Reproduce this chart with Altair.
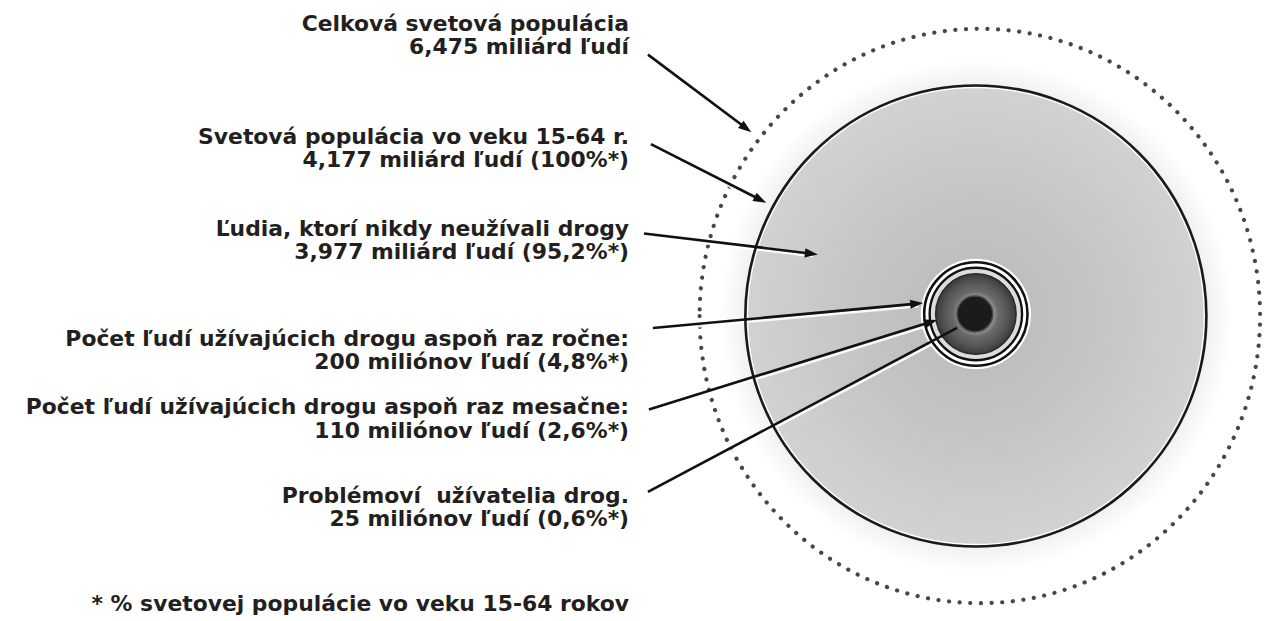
import altair as alt
import pandas as pd
import numpy as np

# ---------------- content ----------------
label_line1 = [
    "Celková svetová populácia",
    "Svetová populácia vo veku 15-64 r.",
    "Ľudia, ktorí nikdy neužívali drogy",
    "Počet ľudí užívajúcich drogu aspoň raz ročne:",
    "Počet ľudí užívajúcich drogu aspoň raz mesačne:",
    "Problémoví\u00a0 užívatelia drog.",
]
label_line2 = [
    "6,475 miliárd ľudí",
    "4,177 miliárd ľudí (100%*)",
    "3,977 miliárd ľudí (95,2%*)",
    "200 miliónov ľudí (4,8%*)",
    "110 miliónov ľudí (2,6%*)",
    "25 miliónov ľudí (0,6%*)",
]
footnote = "* % svetovej populácie vo veku 15-64 rokov"

# ---------------- layout (page pixel coordinates) ----------------
label_x = 633
label_y1 = [29, 143, 235, 346, 415, 504]
label_y2 = [52.5, 166.5, 258.5, 369.5, 438.5, 527.5]
footnote_y = 613

arrow_x1 = [652, 655, 648, 657, 653, 652]
arrow_y1 = [53, 143, 233, 328, 410, 493]
arrow_x2 = [756, 771, 823, 929, 943, 963]
arrow_y2 = [131, 202, 254, 303, 320, 328]
arrow_head = [True, True, True, True, True, False]

big_cx, big_cy = 982, 316
inner_cx, inner_cy = 982, 314
dotted_cx, dotted_cy = 986, 316
dotted_rx, dotted_ry = 282, 289
glow_r = 258
big_r = 232
ring_r = [55.5, 52, 46.5]
dark_r = 40.5
core_r = 18

xs = alt.Scale(domain=[8, 1278], nice=False, zero=False)
ys = alt.Scale(domain=[621, 8], nice=False, zero=False)


def X(f="x"):
    return alt.X(f"{f}:Q", scale=xs, axis=None)


def Y(f="y"):
    return alt.Y(f"{f}:Q", scale=ys, axis=None)


def circ(cx, cy, r, shape="circle", **mk):
    df = pd.DataFrame({"x": [cx], "y": [cy], "s": [(2 * r) ** 2]})
    return alt.Chart(df).mark_point(shape=shape, opacity=1, **mk).encode(
        x=X(), y=Y(), size=alt.Size("s:Q", scale=None)
    )


def grad(stops):
    return alt.Gradient(
        gradient="radial",
        stops=[alt.GradientStop(offset=o, color=c) for o, c in stops],
    )


layers = []
# faint glow around big circle
layers.append(circ(big_cx, big_cy, glow_r, filled=True, strokeWidth=0,
                   fill=grad([(0, "#eaeaea"), (0.9, "#f1f1f1"), (1, "#ffffff")])))
# dotted outer ellipse
k = dotted_rx / dotted_ry
ell = f"M{-k:.4f},0A{k:.4f},1 0 1,0 {k:.4f},0A{k:.4f},1 0 1,0 {-k:.4f},0Z"
layers.append(circ(dotted_cx, dotted_cy, dotted_ry, shape=ell, filled=False, stroke="#474747",
                   strokeWidth=4.2, strokeDash=[0.1, 10.6], strokeCap="round"))
# big circle fill
layers.append(circ(big_cx, big_cy, big_r, filled=True, strokeWidth=0,
                   fill=grad([(0, "#b9b9b9"), (0.5, "#c4c4c4"), (1, "#d2d2d2")])))

# lines
lines = []
heads = []
for i in range(len(arrow_x1)):
    x1, y1, x2, y2 = arrow_x1[i], arrow_y1[i], arrow_x2[i], arrow_y2[i]
    d = np.array([x2 - x1, y2 - y1], dtype=float)
    L = np.hypot(*d)
    u = d / L
    if arrow_head[i]:
        ex, ey = x2 - u[0] * 6, y2 - u[1] * 6
        ang = (np.degrees(np.arctan2(u[0], -u[1])) + 360) % 360
        heads.append({"x": x2 - u[0] * 7.5, "y": y2 - u[1] * 7.5, "ang": ang, "s": 225})
    else:
        ex, ey = x2, y2
    lines.append({"id": i, "o": 0, "x": x1, "y": y1})
    lines.append({"id": i, "o": 1, "x": ex, "y": ey})
ldf = pd.DataFrame(lines)
sdf = ldf.copy()
sdf["x"] = sdf["x"] + 1.0
sdf["y"] = sdf["y"] + 2.6

layers.append(alt.Chart(sdf).mark_line(color="#ffffff", strokeWidth=2.4, opacity=0.9).encode(
    x=X(), y=Y(), detail="id:N", order="o:Q"))
# big circle outline
layers.append(circ(big_cx, big_cy, big_r - 2.2, filled=False, stroke="#ffffff", strokeWidth=1.2))
layers.append(circ(big_cx, big_cy, big_r, filled=False, stroke="#1a1a1a", strokeWidth=2.6))

# inner rings
layers.append(circ(inner_cx, inner_cy, ring_r[0], filled=True, fill="#ffffff", strokeWidth=0))
layers.append(circ(inner_cx, inner_cy, ring_r[1], filled=True, fill="#ffffff", stroke="#111111", strokeWidth=2.6))
layers.append(circ(inner_cx, inner_cy, ring_r[2], filled=True, fill="#dcdcdc", stroke="#111111", strokeWidth=2.4))
layers.append(circ(inner_cx, inner_cy, dark_r, filled=True, stroke="#2a2a2a", strokeWidth=1.5,
                   fill=grad([(0, "#8e8e8e"), (0.47, "#8a8a8a"), (0.56, "#6a6a6a"),
                              (0.8, "#555555"), (1, "#3a3a3a")])))
layers.append(circ(inner_cx - 1, inner_cy, core_r, filled=True, fill="#1b1b1b", stroke="#4a4a4a", strokeWidth=1.5))

# black arrow lines and heads
layers.append(alt.Chart(ldf).mark_line(color="#111111", strokeWidth=2.6).encode(
    x=X(), y=Y(), detail="id:N", order="o:Q"))
layers.append(alt.Chart(pd.DataFrame(heads)).mark_point(
    shape="M0,-1L0.62,0.75L-0.62,0.75Z", filled=True, color="#111111", opacity=1, strokeWidth=0
).encode(x=X(), y=Y(), size=alt.Size("s:Q", scale=None), angle=alt.Angle("ang:Q", scale=None)))

# texts
trows = []
for i in range(len(label_line1)):
    trows.append({"t": label_line1[i], "x": label_x, "y": label_y1[i]})
    trows.append({"t": label_line2[i], "x": label_x, "y": label_y2[i]})
trows.append({"t": footnote, "x": label_x, "y": footnote_y})
layers.append(alt.Chart(pd.DataFrame(trows)).mark_text(
    align="right", baseline="alphabetic", font="DejaVu Sans", fontWeight="bold",
    fontSize=22, color="#231f20"
).encode(x=X(), y=Y(), text="t:N"))

chart = alt.layer(*layers).properties(
    width=1270, height=613, autosize=alt.AutoSizeParams(type="none"), padding=0,
    background="#ffffff"
).configure_view(stroke=None)

chart.save("out.html", embed_options={"renderer": "svg", "actions": False})
